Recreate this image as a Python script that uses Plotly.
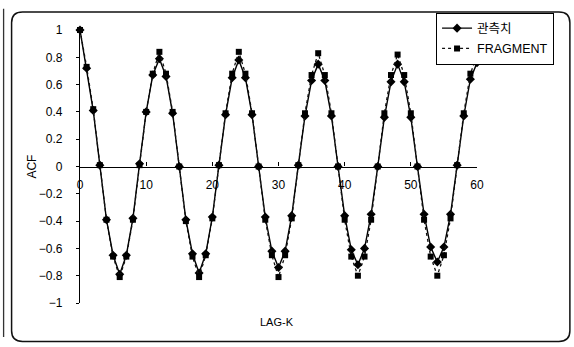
import plotly.graph_objects as go

lag = list(range(61))

observed = [1.00, 0.72, 0.41, 0.01, -0.39, -0.65, -0.79, -0.65, -0.38, 0.02, 0.40, 0.67,
            0.79, 0.66, 0.39, 0.00, -0.39, -0.64, -0.78, -0.64, -0.37, 0.01, 0.38, 0.65,
            0.78, 0.65, 0.38, 0.00, -0.37, -0.62, -0.74, -0.62, -0.36, 0.01, 0.37, 0.63,
            0.75, 0.63, 0.37, 0.00, -0.36, -0.61, -0.72, -0.60, -0.35, 0.00, 0.36, 0.62,
            0.75, 0.62, 0.36, 0.00, -0.35, -0.59, -0.70, -0.59, -0.35, 0.01, 0.37, 0.64, 0.76]

fragment = [1.00, 0.73, 0.42, 0.01, -0.39, -0.66, -0.81, -0.66, -0.39, 0.01, 0.40, 0.68,
            0.84, 0.68, 0.40, 0.00, -0.40, -0.66, -0.81, -0.65, -0.38, 0.01, 0.39, 0.68,
            0.84, 0.68, 0.39, 0.00, -0.39, -0.65, -0.81, -0.65, -0.38, 0.01, 0.39, 0.67,
            0.83, 0.67, 0.39, 0.00, -0.39, -0.66, -0.80, -0.66, -0.39, 0.00, 0.39, 0.67,
            0.82, 0.67, 0.39, 0.00, -0.39, -0.66, -0.80, -0.65, -0.38, 0.01, 0.39, 0.68, 0.81]

x_ticks = [0, 10, 20, 30, 40, 50, 60]
y_ticks = [1, 0.8, 0.6, 0.4, 0.2, 0, -0.2, -0.4, -0.6, -0.8, -1]
y_tick_text = ["1", "0.8", "0.6", "0.4", "0.2", "0", "−0.2", "−0.4", "−0.6", "−0.8", "−1"]

FONT = "Arial, 'Liberation Sans', 'Noto Sans CJK KR', sans-serif"

# plot-area geometry in pixels
W, H = 574, 347
L, R, T, B = 79.5, 477.0, 22.0, 303.0


def px(xp):
    return (xp - L) / (R - L)


def py(yp):
    return (B - yp) / (B - T)


def rounded_rect(x0, y0, x1, y1, r):
    return (f"M {px(x0 + r)},{py(y0)} L {px(x1 - r)},{py(y0)} "
            f"Q {px(x1)},{py(y0)} {px(x1)},{py(y0 + r)} "
            f"L {px(x1)},{py(y1 - r)} Q {px(x1)},{py(y1)} {px(x1 - r)},{py(y1)} "
            f"L {px(x0 + r)},{py(y1)} Q {px(x0)},{py(y1)} {px(x0)},{py(y1 - r)} "
            f"L {px(x0)},{py(y0 + r)} Q {px(x0)},{py(y0)} {px(x0 + r)},{py(y0)} Z")


fig = go.Figure()
fig.add_trace(go.Scatter(
    x=lag, y=observed, name="관측치", mode="lines+markers",
    line=dict(color="black", width=1.4),
    marker=dict(symbol="diamond", size=7, color="black"),
    cliponaxis=False, legendgroup="a"))
fig.add_trace(go.Scatter(
    x=lag, y=fragment, name="FRAGMENT", mode="lines+markers",
    line=dict(color="#111111", width=1.3, dash="dot"),
    marker=dict(symbol="square", size=6, color="black"),
    cliponaxis=False, legendgroup="b"))

shapes = [
    dict(type="path", xref="paper", yref="paper", path=rounded_rect(11, 3.5, 570, 342.5, 11),
         line=dict(color="#111111", width=1.5), fillcolor="rgba(0,0,0,0)", layer="above"),
    dict(type="line", xref="paper", yref="paper", x0=px(3), x1=px(3), y0=py(0), y1=py(338),
         line=dict(color="#333333", width=1.3), layer="above"),
]

annotations = [
    dict(text="LAG-K", xref="paper", yref="paper", x=px(277), y=py(323), showarrow=False,
         font=dict(family=FONT, size=11, color="black"), xanchor="center", yanchor="middle"),
    dict(text="ACF", xref="paper", yref="paper", x=px(31), y=py(163), showarrow=False,
         textangle=-90, font=dict(family=FONT, size=12, color="black"),
         xanchor="center", yanchor="middle"),
]

fig.update_layout(
    width=W, height=H,
    margin=dict(l=L, r=W - R, t=T, b=H - B, pad=0),
    paper_bgcolor="white", plot_bgcolor="white",
    font=dict(family=FONT, size=12, color="black"),
    showlegend=True,
    legend=dict(x=px(436), y=py(4), xanchor="left", yanchor="top",
                bgcolor="white", bordercolor="black", borderwidth=1,
                font=dict(family=FONT, size=12.5, color="black"),
                traceorder="grouped", tracegroupgap=1, itemwidth=30),
    shapes=shapes,
    annotations=annotations,
    xaxis=dict(range=[0, 60], tickvals=x_ticks, ticktext=[str(v) for v in x_ticks],
               anchor="free", position=0.5, showline=True, linecolor="black", linewidth=1.3,
               ticks="inside", ticklen=4, tickcolor="black", showgrid=False, zeroline=False,
               ticklabelstandoff=7, tickfont=dict(size=12)),
    yaxis=dict(range=[-1, 1], tickvals=y_ticks, ticktext=y_tick_text,
               showline=True, linecolor="black", linewidth=1.3,
               ticks="outside", ticklen=3, tickcolor="black", showgrid=False, zeroline=False,
               ticklabelstandoff=11, tickfont=dict(size=12)),
)

fig.write_html("out.html")
